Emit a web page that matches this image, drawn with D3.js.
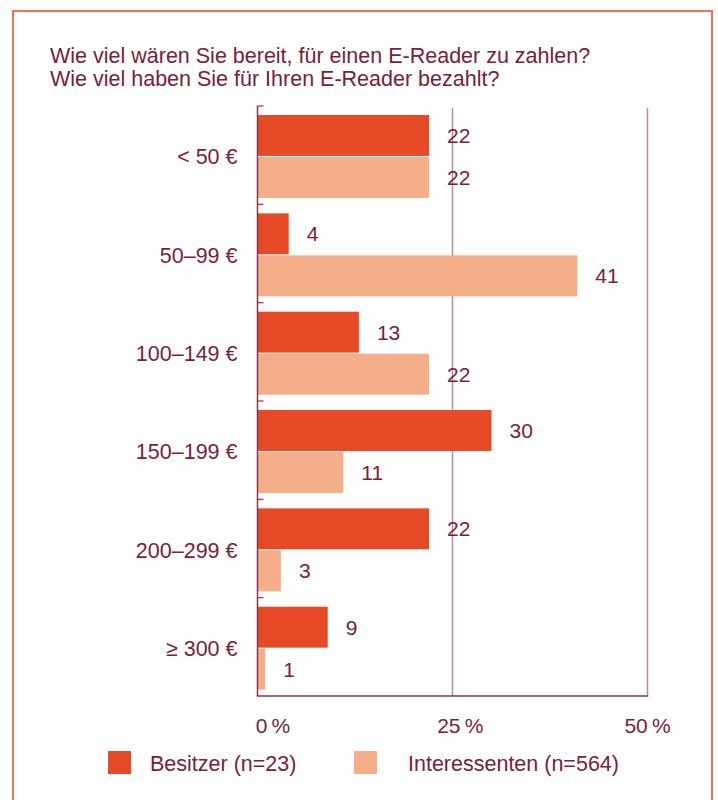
<!DOCTYPE html>
<html>
<head>
<meta charset="utf-8">
<script src="https://cdn.jsdelivr.net/npm/d3@7"></script>
<style>
  html, body { margin: 0; padding: 0; background: #fff; }
  svg { display: block; font-family: "Liberation Sans", Arial, Helvetica, sans-serif; }
</style>
</head>
<body>
<svg id="chart" width="718" height="800"></svg>
<script>
// Price brackets and survey shares (percent)
const categories = ["< 50 €", "50–99 €", "100–149 €", "150–199 €", "200–299 €", "≥ 300 €"];
const seriesNames = ["Besitzer (n=23)", "Interessenten (n=564)"];
const besitzer = [22, 4, 13, 30, 22, 9];
const interessenten = [22, 41, 22, 11, 3, 1];
const xTicks = [0, 25, 50];
const titleLines = [
  "Wie viel wären Sie bereit, für einen E-Reader zu zahlen?",
  "Wie viel haben Sie für Ihren E-Reader bezahlt?"
];

const seriesColors = ["#e74a27", "#f4ae8a"];
const textColor = "#7a2137";
const axisColor = "#8a3445";
const gridColor = "#c08a8e";
const fontSize = 21.5;

const rows = categories.map((c, i) => ({
  category: c,
  values: [
    { series: seriesNames[0], value: besitzer[i] },
    { series: seriesNames[1], value: interessenten[i] }
  ]
}));

const svg = d3.select("#chart");

// outer frame
svg.append("rect")
  .attr("x", 13).attr("y", 11)
  .attr("width", 699).attr("height", 800)
  .attr("fill", "none")
  .attr("stroke", "#f2754f")
  .attr("stroke-width", 2);

// title
svg.append("g")
  .selectAll("text")
  .data(titleLines)
  .join("text")
  .attr("x", 50)
  .attr("y", (d, i) => 63 + i * 23)
  .attr("fill", textColor)
  .attr("font-size", fontSize)
  .text(d => d);

const x = d3.scaleLinear().domain([0, 50]).range([257.5, 647.5]);
const y = d3.scaleBand().domain(categories).range([106, 696]);
const yInner = d3.scaleBand().domain(seriesNames).range([9, 92]).paddingInner(0.025);
const color = d3.scaleOrdinal().domain(seriesNames).range(seriesColors);

const plotTop = 106, plotBottom = 696;

// vertical grid lines at 25 % and 50 %
svg.append("g")
  .selectAll("line")
  .data(xTicks.filter(t => t > 0))
  .join("line")
  .attr("x1", d => x(d)).attr("x2", d => x(d))
  .attr("y1", plotTop + 2).attr("y2", plotBottom)
  .attr("stroke", gridColor)
  .attr("stroke-width", 1.5);

// bars
const groups = svg.append("g")
  .selectAll("g")
  .data(rows)
  .join("g")
  .attr("transform", d => `translate(0,${y(d.category)})`);

groups.selectAll("rect")
  .data(d => d.values)
  .join("rect")
  .attr("x", x(0))
  .attr("y", d => yInner(d.series))
  .attr("width", d => x(d.value) - x(0))
  .attr("height", yInner.bandwidth())
  .attr("fill", d => color(d.series));

// value labels
groups.selectAll("text")
  .data(d => d.values)
  .join("text")
  .attr("x", d => x(d.value) + 18)
  .attr("y", d => yInner(d.series) + yInner.bandwidth() / 2)
  .attr("dy", "0.36em")
  .attr("fill", textColor)
  .attr("font-size", 21)
  .text(d => d.value);

// category labels
svg.append("g")
  .selectAll("text")
  .data(categories)
  .join("text")
  .attr("x", 237.5)
  .attr("y", d => y(d) + (yInner.range()[0] + yInner.range()[1]) / 2)
  .attr("dy", "0.36em")
  .attr("text-anchor", "end")
  .attr("fill", textColor)
  .attr("font-size", fontSize)
  .text(d => d);

// left axis with short inward ticks at band boundaries
const axisG = svg.append("g");
axisG.append("line")
  .attr("x1", x(0)).attr("x2", x(0))
  .attr("y1", plotTop).attr("y2", plotBottom)
  .attr("stroke", axisColor).attr("stroke-width", 1.5);
axisG.selectAll("line.tick")
  .data(categories)
  .join("line")
  .attr("class", "tick")
  .attr("x1", x(0)).attr("x2", x(0) + 6)
  .attr("y1", d => y(d)).attr("y2", d => y(d))
  .attr("stroke", axisColor).attr("stroke-width", 1.2);

// bottom axis
svg.append("line")
  .attr("x1", x(0) - 0.75).attr("x2", x(50) + 0.75)
  .attr("y1", plotBottom).attr("y2", plotBottom)
  .attr("stroke", axisColor).attr("stroke-width", 1.5);

svg.append("g")
  .selectAll("text")
  .data(xTicks)
  .join("text")
  .attr("x", d => x(d) + (1 - d / 50) * 15.5)
  .attr("y", 733)
  .attr("text-anchor", "middle")
  .attr("fill", textColor)
  .attr("font-size", 21)
  .text(d => d + "\u2009%");

// legend
const legendX = [108, 354];
const legend = svg.append("g")
  .selectAll("g")
  .data(seriesNames)
  .join("g")
  .attr("transform", (d, i) => `translate(${legendX[i]},751)`);
legend.append("rect")
  .attr("width", 23).attr("height", 23)
  .attr("fill", d => color(d));
legend.append("text")
  .attr("x", (d, i) => i === 0 ? 42 : 54)
  .attr("y", 20)
  .attr("fill", textColor)
  .attr("font-size", fontSize)
  .text(d => d);
</script>
</body>
</html>
